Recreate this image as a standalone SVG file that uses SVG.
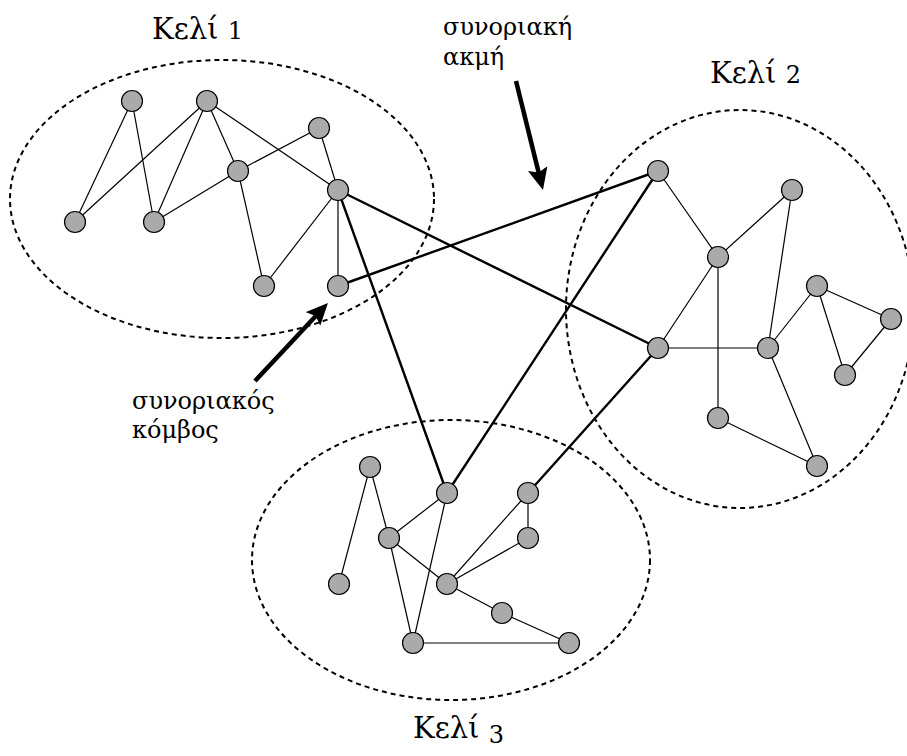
<svg xmlns="http://www.w3.org/2000/svg" width="907" height="756" viewBox="0 0 907 756">
<style>
.cell{fill:none;stroke:#000;stroke-width:2;stroke-dasharray:5,4}
.e{stroke:#000;stroke-width:1.2;fill:none}
.b{stroke:#000;stroke-width:2.4;fill:none}
.n{fill:#aaaaaa;stroke:#000;stroke-width:1.2}
.lbl{font-family:"DejaVu Serif","Liberation Serif",serif;font-size:29px;fill:#000}
.dg{font-size:24px}
.ann{font-family:"DejaVu Serif","Liberation Serif",serif;font-size:24px;fill:#000}
.arr{stroke:#000;stroke-width:4.5;fill:none;marker-end:url(#ah)}
</style>
<defs>
<marker id="ah" markerUnits="userSpaceOnUse" markerWidth="24" markerHeight="22" refX="8" refY="10" orient="auto">
<path d="M0,0 L22,10 L0,20 L4,10 z" fill="#000"/>
</marker>
</defs>
<rect width="907" height="756" fill="#fff"/>
<g id="cells">
<ellipse class="cell" cx="222" cy="199" rx="212" ry="139"/>
<ellipse class="cell" cx="740" cy="309" rx="174" ry="199"/>
<ellipse class="cell" cx="451" cy="560" rx="199" ry="140"/>
</g>
<g id="edges">
<line class="e" x1="132" y1="101" x2="75" y2="222"/>
<line class="e" x1="132" y1="101" x2="154" y2="222"/>
<line class="e" x1="207" y1="101" x2="75" y2="222"/>
<line class="e" x1="207" y1="101" x2="154" y2="222"/>
<line class="e" x1="207" y1="101" x2="238" y2="171"/>
<line class="e" x1="207" y1="101" x2="338" y2="190"/>
<line class="e" x1="319" y1="128" x2="238" y2="171"/>
<line class="e" x1="238" y1="171" x2="154" y2="222"/>
<line class="e" x1="319" y1="128" x2="338" y2="190"/>
<line class="e" x1="238" y1="171" x2="264" y2="286"/>
<line class="e" x1="338" y1="190" x2="264" y2="286"/>
<line class="e" x1="338" y1="190" x2="338" y2="286"/>
<line class="e" x1="658" y1="171" x2="718" y2="257"/>
<line class="e" x1="792" y1="190" x2="718" y2="257"/>
<line class="e" x1="792" y1="190" x2="768" y2="348"/>
<line class="e" x1="718" y1="257" x2="658" y2="348"/>
<line class="e" x1="718" y1="257" x2="718" y2="418"/>
<line class="e" x1="658" y1="348" x2="768" y2="348"/>
<line class="e" x1="768" y1="348" x2="817" y2="286"/>
<line class="e" x1="817" y1="286" x2="891" y2="319"/>
<line class="e" x1="817" y1="286" x2="845" y2="375"/>
<line class="e" x1="891" y1="319" x2="845" y2="375"/>
<line class="e" x1="768" y1="348" x2="817" y2="466"/>
<line class="e" x1="718" y1="418" x2="817" y2="466"/>
<line class="e" x1="370" y1="467" x2="339" y2="584"/>
<line class="e" x1="370" y1="467" x2="389" y2="538"/>
<line class="e" x1="447" y1="493" x2="389" y2="538"/>
<line class="e" x1="447" y1="493" x2="413" y2="643"/>
<line class="e" x1="389" y1="538" x2="447" y2="584"/>
<line class="e" x1="389" y1="538" x2="413" y2="643"/>
<line class="e" x1="528" y1="493" x2="447" y2="584"/>
<line class="e" x1="528" y1="493" x2="528" y2="538"/>
<line class="e" x1="528" y1="538" x2="447" y2="584"/>
<line class="e" x1="447" y1="584" x2="502" y2="613"/>
<line class="e" x1="502" y1="613" x2="569" y2="643"/>
<line class="e" x1="413" y1="643" x2="569" y2="643"/>
<line class="b" x1="338" y1="190" x2="658" y2="348"/>
<line class="b" x1="338" y1="190" x2="447" y2="493"/>
<line class="b" x1="338" y1="286" x2="658" y2="171"/>
<line class="b" x1="658" y1="171" x2="447" y2="493"/>
<line class="b" x1="658" y1="348" x2="528" y2="493"/>
</g>
<g id="nodes">
<g id="c1"><circle class="n" cx="132" cy="101" r="10.5"/><circle class="n" cx="207" cy="101" r="10.5"/><circle class="n" cx="319" cy="128" r="10.5"/><circle class="n" cx="238" cy="171" r="10.5"/><circle class="n" cx="338" cy="190" r="10.5"/><circle class="n" cx="75" cy="222" r="10.5"/><circle class="n" cx="154" cy="222" r="10.5"/><circle class="n" cx="264" cy="286" r="10.5"/><circle class="n" cx="338" cy="286" r="10.5"/></g>
<g id="c2"><circle class="n" cx="658" cy="171" r="10.5"/><circle class="n" cx="792" cy="190" r="10.5"/><circle class="n" cx="718" cy="257" r="10.5"/><circle class="n" cx="817" cy="286" r="10.5"/><circle class="n" cx="891" cy="319" r="10.5"/><circle class="n" cx="658" cy="348" r="10.5"/><circle class="n" cx="768" cy="348" r="10.5"/><circle class="n" cx="845" cy="375" r="10.5"/><circle class="n" cx="718" cy="418" r="10.5"/><circle class="n" cx="817" cy="466" r="10.5"/></g>
<g id="c3"><circle class="n" cx="370" cy="467" r="10.5"/><circle class="n" cx="447" cy="493" r="10.5"/><circle class="n" cx="528" cy="493" r="10.5"/><circle class="n" cx="389" cy="538" r="10.5"/><circle class="n" cx="528" cy="538" r="10.5"/><circle class="n" cx="339" cy="584" r="10.5"/><circle class="n" cx="447" cy="584" r="10.5"/><circle class="n" cx="502" cy="613" r="10.5"/><circle class="n" cx="413" cy="643" r="10.5"/><circle class="n" cx="569" cy="643" r="10.5"/></g>
</g>
<g id="annotations">
<line class="arr" x1="516" y1="81" x2="539.6" y2="176.4"/>
<line class="arr" x1="255" y1="381" x2="318.4" y2="313.2"/>
<text class="ann" x="443" y="35">συνοριακή</text>
<text class="ann" x="443" y="65">ακμή</text>
<text class="ann" x="132" y="409">συνοριακός</text>
<text class="ann" x="132" y="438">κόμβος</text>
</g>
<g id="labels">
<text class="lbl" x="152" y="39">Κελί <tspan class="dg">1</tspan></text>
<text class="lbl" x="710" y="83">Κελί <tspan class="dg">2</tspan></text>
<text class="lbl" x="413" y="738">Κελί <tspan class="dg" dy="5">3</tspan></text>
</g>
</svg>
